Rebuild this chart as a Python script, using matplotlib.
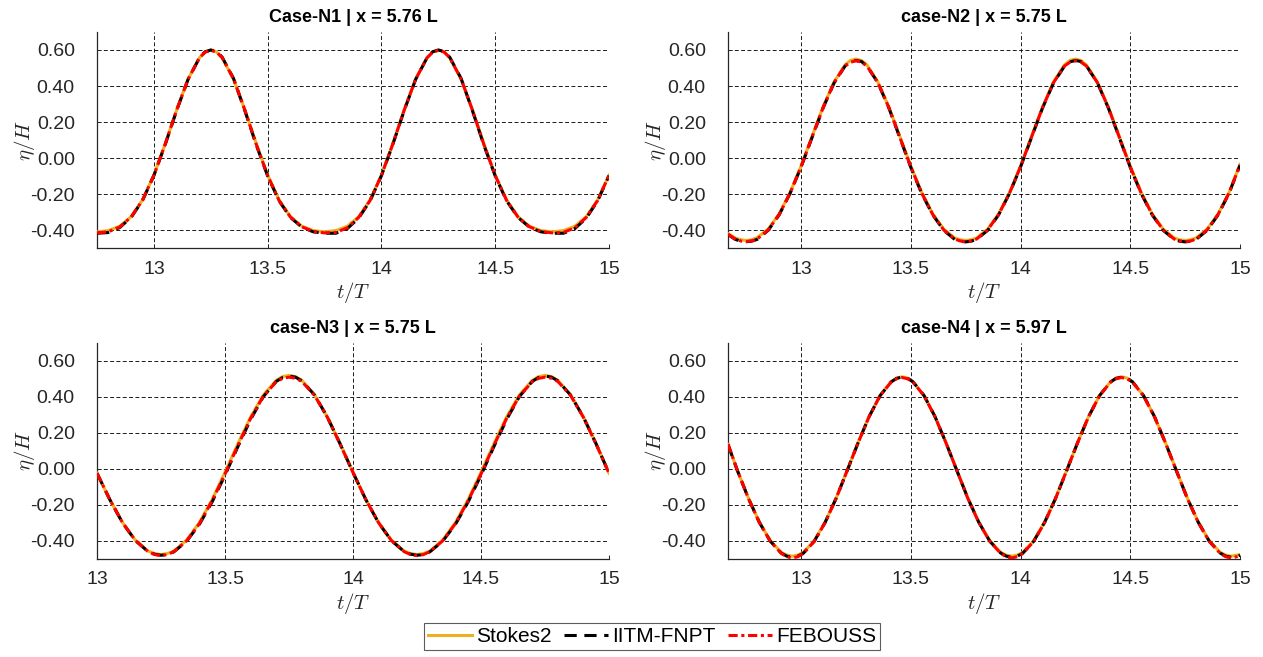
#%%
# imports
import numpy as np
import matplotlib
matplotlib.use("Agg")
import matplotlib.pyplot as plt

#%%
# settings
plt.rcParams['font.family'] = ['Liberation Sans', 'DejaVu Sans']
plt.rcParams['mathtext.fontset'] = 'cm'

C_STOKES = '#EDB120'
C_FNPT = 'black'
C_FEB = '#FF0000'
AX_COL = '#262626'

series_names = ["Stokes2", "IITM-FNPT", "FEBOUSS"]
titles = ["Case-N1 | x = 5.76 L", "case-N2 | x = 5.75 L",
          "case-N3 | x = 5.75 L", "case-N4 | x = 5.97 L"]
x_limits = [(12.75, 15.0), (12.667, 15.0), (13.0, 15.0), (12.667, 15.0)]
y_ticks = [-0.4, -0.2, 0.0, 0.2, 0.4, 0.6]
x_ticks = [13, 13.5, 14, 14.5, 15]

#%%
# data (denser samples around crests/troughs)
# case N1
t_n1 = [12.75, 12.80, 12.85, 12.90, 12.95, 13.00, 13.05, 13.10, 13.15, 13.20,
        13.225, 13.25, 13.275,
        13.30, 13.35, 13.40, 13.45, 13.50, 13.55, 13.60, 13.65, 13.70, 13.75,
        13.80, 13.85, 13.90, 13.95, 14.00, 14.05, 14.10, 14.15, 14.20,
        14.225, 14.25, 14.275,
        14.30, 14.35, 14.40, 14.45, 14.50, 14.55, 14.60, 14.65, 14.70, 14.75,
        14.80, 14.85, 14.90, 14.95, 15.00]
stokes_n1 = [-0.410, -0.403, -0.379, -0.326, -0.233, -0.095, 0.079, 0.267, 0.438, 0.557,
             0.589, 0.600, 0.589,
             0.557, 0.438, 0.267, 0.079, -0.095, -0.233, -0.326, -0.379, -0.403, -0.410,
             -0.403, -0.379, -0.326, -0.233, -0.095, 0.079, 0.267, 0.438, 0.557,
             0.589, 0.600, 0.589,
             0.557, 0.438, 0.267, 0.079, -0.095, -0.233, -0.326, -0.379, -0.403, -0.410,
             -0.403, -0.379, -0.326, -0.233, -0.095]
fnpt_n1 = [-0.418, -0.414, -0.386, -0.330, -0.236, -0.097, 0.076, 0.264, 0.436, 0.556,
           0.590, 0.600, 0.592,
           0.560, 0.442, 0.262, 0.072, -0.100, -0.238, -0.330, -0.384, -0.410, -0.418,
           -0.418, -0.392, -0.334, -0.238, -0.098, 0.076, 0.264, 0.436, 0.556,
           0.590, 0.600, 0.592,
           0.560, 0.442, 0.262, 0.072, -0.100, -0.238, -0.330, -0.384, -0.410, -0.418,
           -0.418, -0.392, -0.334, -0.238, -0.098]
feb_n1 = [-0.416, -0.410, -0.383, -0.328, -0.234, -0.096, 0.078, 0.266, 0.437, 0.556,
          0.588, 0.598, 0.589,
          0.558, 0.440, 0.265, 0.075, -0.098, -0.236, -0.328, -0.382, -0.408, -0.416,
          -0.413, -0.388, -0.330, -0.236, -0.096, 0.078, 0.266, 0.437, 0.556,
          0.588, 0.598, 0.589,
          0.558, 0.440, 0.265, 0.075, -0.098, -0.236, -0.328, -0.382, -0.408, -0.416,
          -0.413, -0.388, -0.330, -0.236, -0.096]

# case N2
t_n2 = [12.667, 12.70,
        12.725, 12.75, 12.775,
        12.80, 12.85, 12.90, 12.95, 13.00, 13.05, 13.10, 13.15, 13.20,
        13.225, 13.25, 13.275,
        13.30, 13.35, 13.40, 13.45, 13.50, 13.55, 13.60, 13.65, 13.70,
        13.725, 13.75, 13.775,
        13.80, 13.85, 13.90, 13.95, 14.00, 14.05, 14.10, 14.15, 14.20,
        14.225, 14.25, 14.275,
        14.30, 14.35, 14.40, 14.45, 14.50, 14.55, 14.60, 14.65, 14.70,
        14.725, 14.75, 14.775,
        14.80, 14.85, 14.90, 14.95, 15.00]
stokes_n2 = [-0.420, -0.444,
             -0.454, -0.458, -0.454,
             -0.442, -0.395, -0.311, -0.192, -0.045, 0.120, 0.283, 0.422, 0.517,
             0.542, 0.550, 0.542,
             0.517, 0.422, 0.283, 0.120, -0.045, -0.192, -0.311, -0.395, -0.444,
             -0.454, -0.458, -0.454,
             -0.444, -0.395, -0.311, -0.192, -0.045, 0.120, 0.283, 0.422, 0.517,
             0.542, 0.550, 0.542,
             0.517, 0.422, 0.283, 0.120, -0.045, -0.192, -0.311, -0.395, -0.444,
             -0.454, -0.458, -0.454,
             -0.444, -0.395, -0.311, -0.192, -0.035]
fnpt_n2 = [-0.425, -0.452,
           -0.462, -0.465, -0.462,
           -0.452, -0.402, -0.316, -0.196, -0.050, 0.114, 0.277, 0.416, 0.510,
           0.534, 0.542, 0.536,
           0.512, 0.418, 0.278, 0.113, -0.052, -0.198, -0.316, -0.402, -0.452,
           -0.462, -0.466, -0.462,
           -0.452, -0.402, -0.316, -0.196, -0.050, 0.114, 0.277, 0.416, 0.510,
           0.534, 0.542, 0.536,
           0.512, 0.418, 0.278, 0.113, -0.052, -0.198, -0.316, -0.402, -0.452,
           -0.462, -0.466, -0.462,
           -0.452, -0.402, -0.316, -0.196, -0.040]
feb_n2 = [-0.424, -0.450,
          -0.461, -0.464, -0.461,
          -0.450, -0.400, -0.314, -0.195, -0.048, 0.116, 0.279, 0.418, 0.511,
          0.532, 0.540, 0.533,
          0.511, 0.419, 0.280, 0.115, -0.050, -0.196, -0.314, -0.400, -0.450,
          -0.461, -0.465, -0.461,
          -0.450, -0.400, -0.314, -0.195, -0.048, 0.116, 0.279, 0.418, 0.511,
          0.532, 0.540, 0.533,
          0.511, 0.419, 0.280, 0.115, -0.050, -0.196, -0.314, -0.400, -0.450,
          -0.461, -0.465, -0.461,
          -0.450, -0.400, -0.314, -0.195, -0.038]

# case N3
t_n3 = [13.00, 13.05, 13.10, 13.15, 13.20,
        13.225, 13.25, 13.275,
        13.30, 13.35, 13.40, 13.45, 13.50, 13.55, 13.60, 13.65, 13.70,
        13.725, 13.75, 13.775,
        13.80, 13.85, 13.90, 13.95, 14.00, 14.05, 14.10, 14.15, 14.20,
        14.225, 14.25, 14.275,
        14.30, 14.35, 14.40, 14.45, 14.50, 14.55, 14.60, 14.65, 14.70,
        14.725, 14.75, 14.775,
        14.80, 14.85, 14.90, 14.95, 15.00]
stokes_n3 = [-0.025, -0.171, -0.300, -0.398, -0.459,
             -0.472, -0.478, -0.472,
             -0.459, -0.398, -0.300, -0.171, -0.020, 0.138, 0.288, 0.411, 0.492,
             0.513, 0.520, 0.513,
             0.492, 0.411, 0.288, 0.138, -0.020, -0.171, -0.300, -0.398, -0.459,
             -0.472, -0.478, -0.472,
             -0.459, -0.398, -0.300, -0.171, -0.020, 0.138, 0.288, 0.411, 0.492,
             0.513, 0.520, 0.513,
             0.492, 0.411, 0.288, 0.138, -0.025]
fnpt_n3 = [-0.025, -0.172, -0.302, -0.400, -0.462,
           -0.476, -0.482, -0.478,
           -0.463, -0.404, -0.310, -0.184, -0.036, 0.122, 0.274, 0.402, 0.486,
           0.508, 0.516, 0.510,
           0.490, 0.410, 0.287, 0.137, -0.021, -0.172, -0.302, -0.400, -0.462,
           -0.476, -0.482, -0.478,
           -0.463, -0.404, -0.310, -0.184, -0.036, 0.122, 0.274, 0.402, 0.486,
           0.508, 0.516, 0.510,
           0.490, 0.410, 0.287, 0.137, -0.025]
feb_n3 = [-0.025, -0.172, -0.301, -0.400, -0.462,
          -0.478, -0.484, -0.478,
          -0.462, -0.402, -0.306, -0.178, -0.030, 0.128, 0.280, 0.404, 0.484,
          0.503, 0.510, 0.504,
          0.486, 0.408, 0.286, 0.136, -0.021, -0.172, -0.301, -0.400, -0.462,
          -0.478, -0.484, -0.478,
          -0.462, -0.402, -0.306, -0.178, -0.030, 0.128, 0.280, 0.404, 0.484,
          0.503, 0.510, 0.504,
          0.486, 0.408, 0.286, 0.136, -0.025]

# case N4
t_n4 = [12.667, 12.71, 12.76, 12.81, 12.86, 12.91,
        12.935, 12.96, 12.985,
        13.01, 13.06, 13.11, 13.16, 13.21, 13.26, 13.31, 13.36, 13.41,
        13.435, 13.46, 13.485,
        13.51, 13.56, 13.61, 13.66, 13.71, 13.76, 13.81, 13.86, 13.91,
        13.935, 13.96, 13.985,
        14.01, 14.06, 14.11, 14.16, 14.21, 14.26, 14.31, 14.36, 14.41,
        14.435, 14.46, 14.485,
        14.51, 14.56, 14.61, 14.66, 14.71, 14.76, 14.81, 14.86, 14.91,
        14.935, 14.96, 14.985,
        15.00]
stokes_n4 = [0.135, -0.010, -0.163, -0.297, -0.401, -0.466,
             -0.481, -0.487, -0.481,
             -0.466, -0.401, -0.297, -0.163, -0.010, 0.146, 0.291, 0.408, 0.484,
             0.505, 0.512, 0.505,
             0.484, 0.408, 0.291, 0.146, -0.010, -0.163, -0.297, -0.401, -0.466,
             -0.481, -0.487, -0.481,
             -0.466, -0.401, -0.297, -0.163, -0.010, 0.146, 0.291, 0.408, 0.484,
             0.505, 0.512, 0.505,
             0.484, 0.408, 0.291, 0.146, -0.010, -0.163, -0.297, -0.401, -0.466,
             -0.481, -0.487, -0.481,
             -0.478]
fnpt_n4 = [0.135, -0.011, -0.165, -0.299, -0.404, -0.470,
           -0.487, -0.493, -0.487,
           -0.471, -0.404, -0.298, -0.164, -0.011, 0.145, 0.290, 0.407, 0.483,
           0.503, 0.510, 0.504,
           0.484, 0.408, 0.291, 0.145, -0.011, -0.165, -0.299, -0.404, -0.470,
           -0.487, -0.493, -0.487,
           -0.471, -0.404, -0.298, -0.164, -0.011, 0.145, 0.290, 0.407, 0.483,
           0.503, 0.510, 0.504,
           0.484, 0.408, 0.291, 0.145, -0.011, -0.165, -0.299, -0.404, -0.470,
           -0.487, -0.493, -0.487,
           -0.482]
feb_n4 = [0.138, -0.010, -0.166, -0.300, -0.405, -0.472,
          -0.490, -0.497, -0.490,
          -0.472, -0.405, -0.299, -0.164, -0.010, 0.145, 0.290, 0.407, 0.482,
          0.501, 0.508, 0.501,
          0.482, 0.407, 0.290, 0.145, -0.010, -0.166, -0.300, -0.405, -0.472,
          -0.490, -0.497, -0.490,
          -0.472, -0.405, -0.299, -0.164, -0.010, 0.145, 0.290, 0.407, 0.482,
          0.501, 0.508, 0.501,
          0.482, 0.407, 0.290, 0.145, -0.010, -0.166, -0.300, -0.405, -0.472,
          -0.490, -0.497, -0.490,
          -0.486]

cases = [(t_n1, stokes_n1, fnpt_n1, feb_n1),
         (t_n2, stokes_n2, fnpt_n2, feb_n2),
         (t_n3, stokes_n3, fnpt_n3, feb_n3),
         (t_n4, stokes_n4, fnpt_n4, feb_n4)]

#%%
# axes positions in figure fractions [left, bottom, width, height]
positions = [[0.0768, 0.6225, 0.4054, 0.3288],
             [0.5764, 0.6225, 0.4054, 0.3288],
             [0.0768, 0.1499, 0.4054, 0.3280],
             [0.5764, 0.1499, 0.4054, 0.3280]]

fig = plt.figure(figsize=(12.63, 6.57), dpi=100)

lines = []
for i, (t, st, fn, fb) in enumerate(cases):
    ax = fig.add_axes(positions[i])
    l1, = ax.plot(t, st, color=C_STOKES, lw=2.2, ls='-', zorder=3)
    l2, = ax.plot(t, fn, color=C_FNPT, lw=2.2, ls=(0, (4, 2.5)), zorder=4)
    l3, = ax.plot(t, fb, color=C_FEB, lw=2.2, ls=(0, (3, 1.2, 1, 1.2)), zorder=5)
    if i == 0:
        lines = [l1, l2, l3]

    ax.set_xlim(*x_limits[i])
    ax.set_ylim(-0.5, 0.7)
    ax.set_xticks(x_ticks)
    ax.set_xticklabels([f"{v:g}" for v in x_ticks])
    ax.set_yticks(y_ticks)
    ax.set_yticklabels([f"{v:.2f}" for v in y_ticks])
    ax.grid(True, color='#1a1a1a', ls=(0, (4, 2.5)), lw=0.7, zorder=1)
    ax.set_axisbelow(True)

    for s in ['top', 'right']:
        ax.spines[s].set_visible(False)
    for s in ['left', 'bottom']:
        ax.spines[s].set_color(AX_COL)
        ax.spines[s].set_linewidth(0.9)
    ax.tick_params(axis='both', direction='in', length=3, width=0.7,
                   colors=AX_COL, labelsize=14, labelcolor=AX_COL)
    ax.tick_params(axis='x', pad=9)
    ax.tick_params(axis='y', pad=16)

    ax.set_title(titles[i], fontsize=13, fontweight='bold', pad=7)
    ax.set_xlabel(r'$t/T$', fontsize=15, color=AX_COL, labelpad=2)
    ax.set_ylabel(r'$\eta/H$', fontsize=15, color=AX_COL)
    ax.yaxis.set_label_coords(-0.117, 0.5)

leg = fig.legend(lines, series_names, loc='center', bbox_to_anchor=(0.5165, 0.031),
                 ncol=3, fontsize=15, frameon=True, fancybox=False,
                 handlelength=2.1, handletextpad=0.2, columnspacing=0.6,
                 borderpad=0.2, borderaxespad=0)
leg.get_frame().set_edgecolor('#333333')
leg.get_frame().set_linewidth(0.8)

fig.savefig('out.png', dpi=100)
